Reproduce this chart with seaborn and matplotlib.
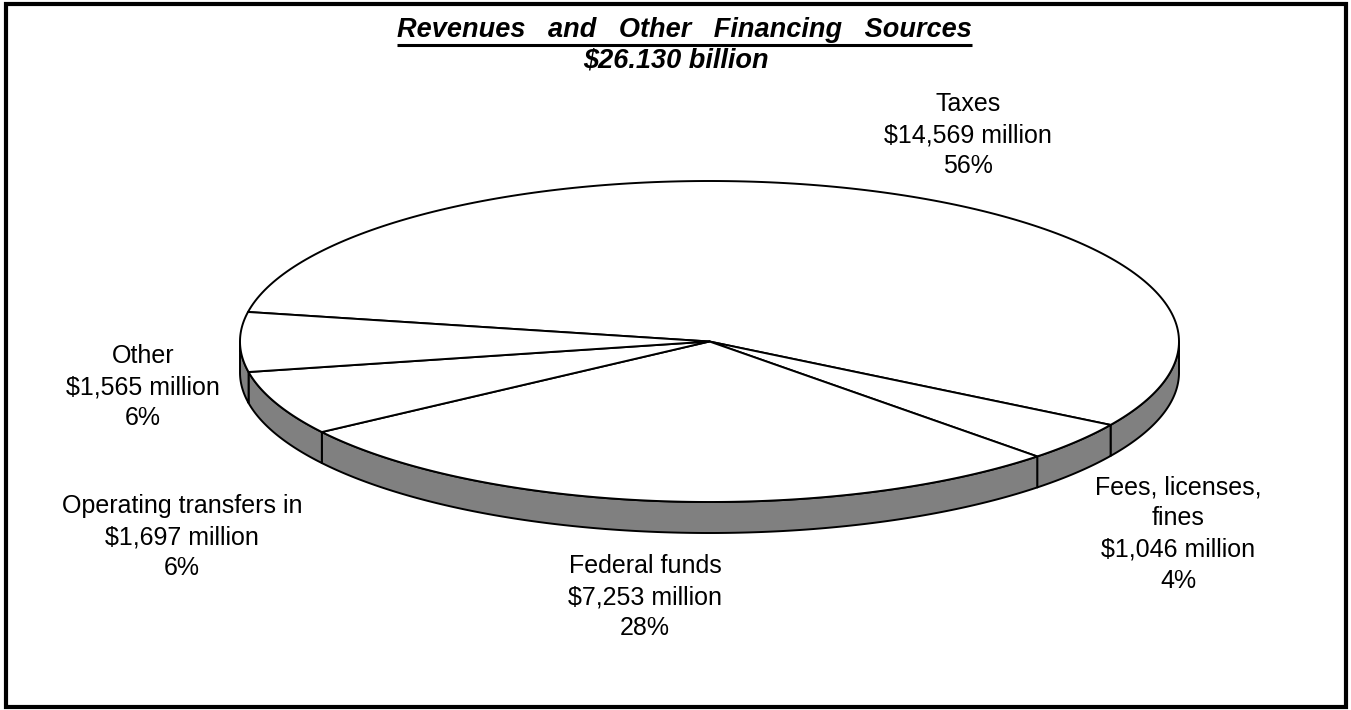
import numpy as np
import matplotlib
matplotlib.use("Agg")
import matplotlib.pyplot as plt
from matplotlib.patches import Polygon, Rectangle
import seaborn as sns

# Revenue sources (millions of dollars), in slice order
categories = ["Taxes", "Fees, licenses,\nfines", "Federal funds",
              "Operating transfers in", "Other"]
values = [14569, 1046, 7253, 1697, 1565]
value_labels = ["$14,569 million", "$1,046 million", "$7,253 million",
                "$1,697 million", "$1,565 million"]
pct_labels = ["56%", "4%", "28%", "6%", "6%"]
title_line1 = "Revenues   and   Other   Financing   Sources"
title_line2 = "$26.130 billion"

sns.set_theme(style="white")
plt.rcParams["font.family"] = ["Liberation Sans", "DejaVu Sans"]

W, H = 1351, 710
fig = plt.figure(figsize=(W / 100, H / 100), dpi=100)
ax = fig.add_axes([0, 0, 1, 1])
ax.set_xlim(0, W)
ax.set_ylim(H, 0)
ax.axis("off")

# Pie geometry (pixel space, y downward)
cx, cy = 709.5, 341.5
rx, ry = 469.5, 160.5
depth = 31
start_deg = 190.6
edge_kw = dict(edgecolor="black", linewidth=1.4, joinstyle="round")

vals = np.asarray(values, dtype=float)
fracs = vals / vals.sum()
bounds = start_deg + 360 * np.concatenate([[0], np.cumsum(fracs)])


def rim(t0, t1, n=200):
    t = np.radians(np.linspace(t0, t1, n))
    return cx + rx * np.cos(t), cy + ry * np.sin(t)


# Side walls: the part of every slice on the front half of the ellipse
for a0, a1 in zip(bounds[:-1], bounds[1:]):
    for k in (0, 360, 720):
        lo, hi = max(a0, k), min(a1, k + 180)
        if hi > lo:
            x, y = rim(lo, hi)
            pts = np.vstack([np.column_stack([x, y]),
                             np.column_stack([x[::-1], y[::-1] + depth])])
            ax.add_patch(Polygon(pts, closed=True, facecolor="#808080",
                                 zorder=2, **edge_kw))

# Top faces
for a0, a1 in zip(bounds[:-1], bounds[1:]):
    x, y = rim(a0, a1)
    pts = np.vstack([[cx, cy], np.column_stack([x, y])])
    ax.add_patch(Polygon(pts, closed=True, facecolor="white", zorder=3,
                         **edge_kw))

# Slice labels
label_pos = [(968, 135), (1178, 534), (645, 597), (182, 537), (143, 387)]
for cat, vl, pl, (lx, ly) in zip(categories, value_labels, pct_labels,
                                 label_pos):
    ax.text(lx, ly, f"{cat}\n{vl}\n{pl}", ha="center", va="center",
            multialignment="center", fontsize=18, linespacing=1.38,
            color="black", zorder=5)

# Title
t1 = ax.text(W / 2 + 9, 30, title_line1, ha="center", va="center",
             fontsize=19.5, fontweight="bold", fontstyle="italic",
             color="black")
ax.text(W / 2, 60, title_line2, ha="center", va="center",
        fontsize=19.5, fontweight="bold", fontstyle="italic", color="black")
fig.canvas.draw()
bb = t1.get_window_extent(renderer=fig.canvas.get_renderer())
x0, x1 = bb.x0, bb.x1
ax.plot([x0, x1], [44.5, 44.5], color="black", linewidth=2.2,
        solid_capstyle="butt", zorder=6)

# Outer frame
ax.add_patch(Rectangle((5.5, 3.5), W - 11, H - 7, fill=False,
                       edgecolor="black", linewidth=3, zorder=7,
                       clip_on=False))

fig.savefig("out.png", dpi=100)
